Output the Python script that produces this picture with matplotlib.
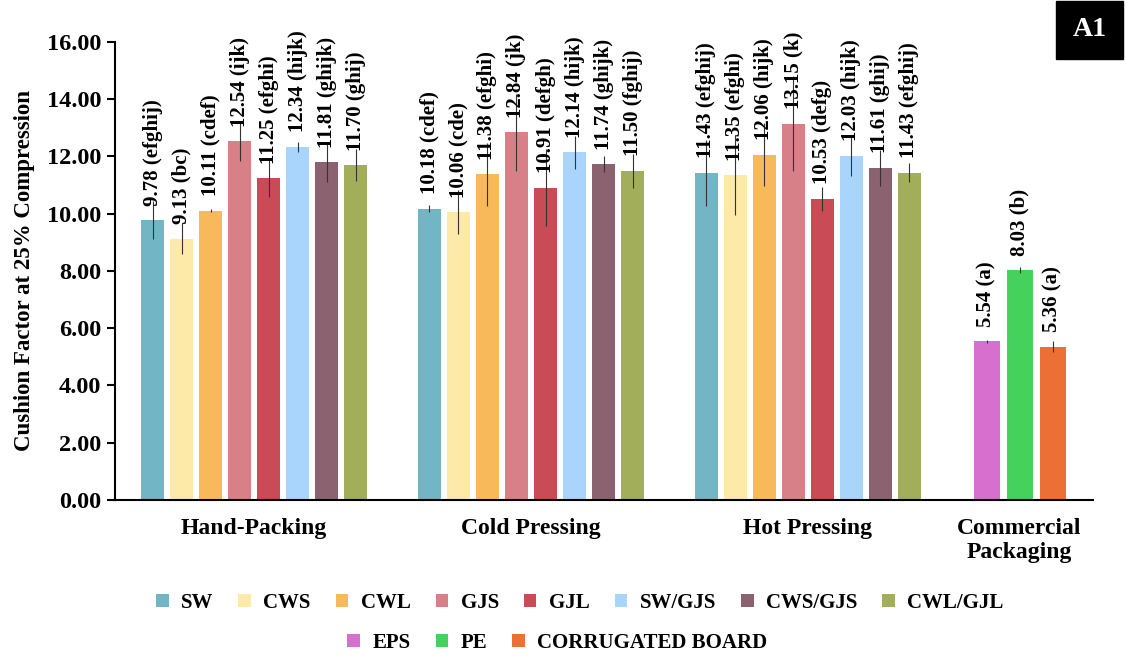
import numpy as np
import matplotlib.pyplot as plt

plt.rcParams['font.family'] = ['Liberation Serif', 'DejaVu Serif']
plt.rcParams['font.weight'] = 'bold'

groups = ['Hand-Packing', 'Cold Pressing', 'Hot Pressing']
materials = ['SW', 'CWS', 'CWL', 'GJS', 'GJL', 'SW/GJS', 'CWS/GJS', 'CWL/GJL']
mat_colors = ['#72b5c4', '#fde9a8', '#f8b95a', '#d88088', '#c84b55',
              '#a9d4fb', '#8a6270', '#a3ae5a']

hand_vals = [9.78, 9.13, 10.11, 12.54, 11.25, 12.34, 11.81, 11.70]
cold_vals = [10.18, 10.06, 11.38, 12.84, 10.91, 12.14, 11.74, 11.50]
hot_vals = [11.43, 11.35, 12.06, 13.15, 10.53, 12.03, 11.61, 11.43]

hand_err = [0.65, 0.53, 0.05, 0.70, 0.65, 0.17, 0.70, 0.55]
cold_err = [0.12, 0.78, 1.10, 1.36, 1.35, 0.57, 0.28, 0.60]
hot_err = [1.15, 1.39, 1.10, 1.65, 0.42, 0.70, 0.63, 0.33]

hand_let = ['efghij', 'bc', 'cdef', 'ijk', 'efghi', 'hijk', 'ghijk', 'ghij']
cold_let = ['cdef', 'cde', 'efghi', 'jk', 'defgh', 'hijk', 'ghijk', 'fghij']
hot_let = ['efghij', 'efghi', 'hijk', 'k', 'defg', 'hijk', 'ghij', 'efghij']

comm_names = ['EPS', 'PE', 'CORRUGATED BOARD']
comm_colors = ['#d76fcf', '#45d25c', '#ec7035']
comm_vals = [5.54, 8.03, 5.36]
comm_err = [0.05, 0.10, 0.20]
comm_let = ['a', 'b', 'a']

fig = plt.figure(figsize=(11.26, 6.59), dpi=100)
ax = fig.add_axes([0.1021, 0.2413, 0.8686, 0.695])

pitch, width = 0.1047, 0.083
offs = (np.arange(8) - 3.5) * pitch
vals = [hand_vals, cold_vals, hot_vals]
errs = [hand_err, cold_err, hot_err]
lets = [hand_let, cold_let, hot_let]

mat_handles = []
for m in range(8):
    xs = np.arange(3) + offs[m]
    ys = [vals[g][m] for g in range(3)]
    es = [errs[g][m] for g in range(3)]
    b = ax.bar(xs, ys, width, color=mat_colors[m], label=materials[m])
    ax.errorbar(xs, ys, yerr=es, fmt='none', ecolor='#333333', elinewidth=0.8, capsize=0)
    mat_handles.append(b)
    for g in range(3):
        ax.text(xs[g], ys[g] + 0.5, f'{ys[g]:.2f} ({lets[g][m]})', rotation=90,
                ha='center', va='bottom', fontsize=15, fontweight='bold')

c_center = 2.764
c_pitch, c_width = 0.119, 0.094
comm_handles = []
for i in range(3):
    x = c_center + (i - 1) * c_pitch
    b = ax.bar(x, comm_vals[i], c_width, color=comm_colors[i], label=comm_names[i])
    ax.errorbar(x, comm_vals[i], yerr=comm_err[i], fmt='none', ecolor='#333333',
                elinewidth=0.8, capsize=0)
    comm_handles.append(b)
    ax.text(x, comm_vals[i] + 0.5, f'{comm_vals[i]:.2f} ({comm_let[i]})', rotation=90,
            ha='center', va='bottom', fontsize=15, fontweight='bold')

ax.set_xlim(-0.502, 3.029)
ax.set_ylim(0, 16)
ax.set_yticks(np.arange(0, 16.1, 2))
ax.set_yticklabels([f'{v:.2f}' for v in np.arange(0, 16.1, 2)], fontsize=17.5, fontweight='bold')
ax.set_xticks(list(range(3)) + [c_center])
ax.set_xticklabels(groups + ['Commercial\nPackaging'], fontsize=17, fontweight='bold',
                   linespacing=1.2)
ax.tick_params(axis='x', length=0, pad=13)
ax.tick_params(axis='y', length=6, width=1.5, direction='out', pad=4)
for s in ['top', 'right']:
    ax.spines[s].set_visible(False)
ax.spines['left'].set_linewidth(1.5)
ax.spines['bottom'].set_linewidth(1.5)
ax.set_ylabel('Cushion Factor at 25% Compression', fontsize=16.5, fontweight='bold', labelpad=8)

fig.legend(handles=mat_handles, loc='center', bbox_to_anchor=(0.515, 1 - 603 / 659),
           ncol=8, frameon=False, fontsize=15, handlelength=0.6, handleheight=0.6,
           columnspacing=1.2, handletextpad=0.6)
fig.legend(handles=comm_handles, loc='center', bbox_to_anchor=(0.495, 1 - 643 / 659),
           ncol=3, frameon=False, fontsize=15, handlelength=0.6, handleheight=0.6,
           columnspacing=1.2, handletextpad=0.6)

fig.text(0.9675, 1 - 30 / 659, 'A1', color='white', fontsize=20, fontweight='bold',
         ha='center', va='center',
         bbox=dict(facecolor='black', edgecolor='black', boxstyle='square,pad=0.6'))

fig.savefig('out.png', dpi=100)
